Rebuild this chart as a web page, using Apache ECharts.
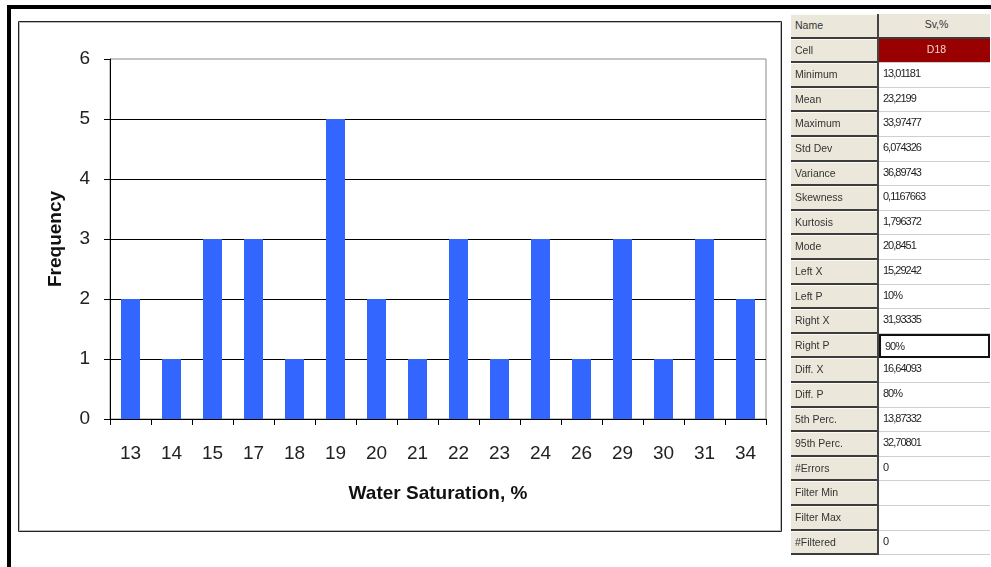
<!DOCTYPE html>
<html>
<head>
<meta charset="utf-8">
<title>Water Saturation Histogram</title>
<script src="https://cdn.jsdelivr.net/npm/echarts@6/dist/echarts.min.js"></script>
<style>
  html, body { margin: 0; padding: 0; background: #fff; }
  #wrap { position: relative; width: 991px; height: 567px; overflow: hidden; }
  #chart { position: absolute; left: 0; top: 0; width: 991px; height: 567px; }
  #stats { position: absolute; left: 0; top: 0; width: 991px; height: 567px; pointer-events: none;
           font-family: 'Liberation Sans', Arial, sans-serif; }
  .cell { position: absolute; box-sizing: border-box; white-space: nowrap; overflow: hidden; }
  .lab { background: #ebe8db; color: #333; font-size: 10.5px; padding-left: 4px;
         border-bottom: 2px solid #3c3c3c; border-top: 1px solid #fbfaf4; }
  .val { background: #fff; color: #1e1e1e; font-size: 11px; letter-spacing: -1px; padding-left: 4px;
         border-bottom: 1px solid #cfcfcf; }
  .head { background: #ebe8db; color: #333; text-align: center; letter-spacing: 0; font-size: 10.5px;
          border-bottom: 2px solid #3c3c3c; }
  .ref { background: #990000; color: #f3d6d6; text-align: center; letter-spacing: 0; font-size: 10.5px; }
  .sel { border: 2px solid #111; }
  .sep { position: absolute; background: #444; }
</style>
</head>
<body>
<div id="wrap">
  <div id="chart"></div>
  <div id="stats"></div>
</div>
<script>
// Histogram bins (rounded water saturation, %) and their counts
const categories = ['13', '14', '15', '17', '18', '19', '20', '21', '22', '23', '24', '26', '29', '30', '31', '34'];
const frequencies = [2, 1, 3, 3, 1, 5, 2, 1, 3, 1, 3, 1, 3, 1, 3, 2];

// Frequency axis range
const yMin = 0;
const yMax = 6;
const yStep = 1;

// Summary statistics grid
const statNames = ['Name', 'Cell', 'Minimum', 'Mean', 'Maximum', 'Std Dev', 'Variance', 'Skewness',
  'Kurtosis', 'Mode', 'Left X', 'Left P', 'Right X', 'Right P', 'Diff. X', 'Diff. P',
  '5th Perc.', '95th Perc.', '#Errors', 'Filter Min', 'Filter Max', '#Filtered'];
const statValues = ['Sv,%', 'D18', '13,01181', '23,2199', '33,97477', '6,074326', '36,89743', '0,1167663',
  '1,796372', '20,8451', '15,29242', '10%', '31,93335', '90%', '16,64093', '80%',
  '13,87332', '32,70801', '0', '', '', '0'];

const FONT = "'Liberation Sans', Arial, sans-serif";

const chart = echarts.init(document.getElementById('chart'), null, { renderer: 'canvas' });

chart.setOption({
  backgroundColor: '#ffffff',
  animation: false,
  textStyle: { fontFamily: FONT },
  graphic: [
    // heavy outer frame (top and left edges)
    { type: 'rect', shape: { x: 7, y: 5, width: 984, height: 4 }, style: { fill: '#000' }, silent: true },
    { type: 'rect', shape: { x: 7, y: 5, width: 4, height: 562 }, style: { fill: '#000' }, silent: true },
    // chart area box
    { type: 'rect', shape: { x: 18.5, y: 21.5, width: 763, height: 510 },
      style: { fill: null, stroke: '#222', lineWidth: 1 }, silent: true },
    { type: 'rect', shape: { x: 19.5, y: 22.5, width: 761, height: 508 },
      style: { fill: null, stroke: '#b8b8b8', lineWidth: 1 }, silent: true }
  ],
  grid: {
    left: 110, top: 59, width: 656, height: 360,
    show: true, borderColor: '#8a8a8a', borderWidth: 1, backgroundColor: 'transparent'
  },
  xAxis: {
    type: 'category',
    data: categories,
    name: 'Water Saturation, %',
    nameLocation: 'middle',
    nameGap: 65,
    nameTextStyle: { fontSize: 19, fontWeight: 'bold', color: '#111', fontFamily: FONT },
    axisLine: { show: true, lineStyle: { color: '#000', width: 1 } },
    axisTick: { show: true, length: 6, alignWithLabel: false, lineStyle: { color: '#000' } },
    axisLabel: { fontSize: 19, color: '#222', margin: 25, fontFamily: FONT, interval: 0 },
    splitLine: { show: false }
  },
  yAxis: {
    type: 'value',
    min: yMin, max: yMax, interval: yStep,
    name: 'Frequency',
    nameLocation: 'middle',
    nameGap: 45,
    nameRotate: 90,
    nameTextStyle: { fontSize: 19, fontWeight: 'bold', color: '#111', fontFamily: FONT },
    axisLine: { show: true, lineStyle: { color: '#000', width: 1 } },
    axisTick: { show: true, length: 6, lineStyle: { color: '#000' } },
    axisLabel: { fontSize: 19, color: '#222', margin: 20, fontFamily: FONT },
    splitLine: { show: true, showMaxLine: false, lineStyle: { color: '#000', width: 1 } }
  },
  series: [{
    type: 'bar',
    data: frequencies,
    barWidth: 19,
    itemStyle: { color: '#3366ff' },
    emphasis: { disabled: true }
  }]
});

// statistics grid drawn as positioned text cells
(function buildStats() {
  const host = document.getElementById('stats');
  const left = 791, mid = 878, right = 991, top = 14, rowH = 24.6;
  statNames.forEach(function (name, i) {
    const y = top + i * rowH;
    const lab = document.createElement('div');
    lab.className = 'cell lab';
    lab.style.left = left + 'px';
    lab.style.top = y + 'px';
    lab.style.width = (mid - left) + 'px';
    lab.style.height = rowH + 'px';
    lab.style.lineHeight = (rowH - 3) + 'px';
    lab.textContent = name;
    host.appendChild(lab);

    const val = document.createElement('div');
    val.className = 'cell val';
    if (i === 0) val.className += ' head';
    if (i === 1) val.className += ' ref';
    if (name === 'Right P') val.className += ' sel';
    val.style.left = (mid + 1) + 'px';
    val.style.top = y + 'px';
    val.style.width = (right - mid - 2) + 'px';
    val.style.height = rowH + 'px';
    val.style.lineHeight = (rowH - 3) + 'px';
    val.textContent = statValues[i];
    host.appendChild(val);
  });
  // column divider
  const sep = document.createElement('div');
  sep.className = 'sep';
  sep.style.left = (mid - 1) + 'px';
  sep.style.top = top + 'px';
  sep.style.width = '2px';
  sep.style.height = (statNames.length * rowH) + 'px';
  host.appendChild(sep);
})();
</script>
</body>
</html>
